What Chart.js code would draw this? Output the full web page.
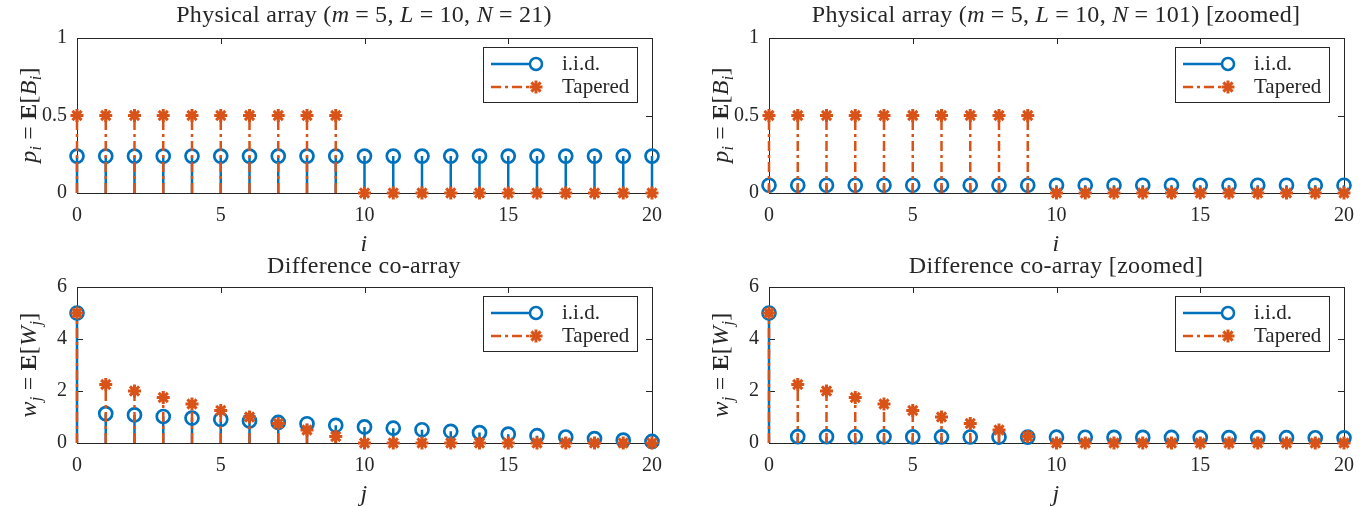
<!DOCTYPE html>
<html>
<head>
<meta charset="utf-8">
<script src="https://cdn.jsdelivr.net/npm/chart.js@4.4.0/dist/chart.umd.min.js"></script>
<style>
body { margin: 0; background: #fff; width: 1370px; height: 506px; overflow: hidden; position: relative;
       font-family: "Liberation Serif", serif; color: #262626; }
canvas { position: absolute; left: 0; top: 0; pointer-events: none; }
.t { position: absolute; font-size: 24px; white-space: nowrap; transform: translate(-50%, -50%); line-height: 1; letter-spacing: 0.3px; }
.yl { transform: translate(-50%, -50%) rotate(-90deg); font-size: 24px; }
.xl { font-size: 24px; }
.eq { margin: 0 6px; }
sub { font-size: 68%; vertical-align: -0.3em; }
</style>
</head>
<body>
<canvas id="c1" width="1370" height="506"></canvas>
<canvas id="c2" width="1370" height="506"></canvas>
<canvas id="c3" width="1370" height="506"></canvas>
<canvas id="c4" width="1370" height="506"></canvas>

<div class="t" style="left:364px;top:14px">Physical array (<i>m</i><span class="eq">=</span>5, <i>L</i><span class="eq">=</span>10, <i>N</i><span class="eq">=</span>21)</div>
<div class="t" style="left:1056px;top:14px">Physical array (<i>m</i><span class="eq">=</span>5, <i>L</i><span class="eq">=</span>10, <i>N</i><span class="eq">=</span>101) [zoomed]</div>
<div class="t" style="left:364px;top:265px">Difference co-array</div>
<div class="t" style="left:1056px;top:265px">Difference co-array [zoomed]</div>

<div class="t xl" style="left:364px;top:243px"><i>i</i></div>
<div class="t xl" style="left:1056px;top:243px"><i>i</i></div>
<div class="t xl" style="left:364px;top:493px"><i>j</i></div>
<div class="t xl" style="left:1056px;top:493px"><i>j</i></div>

<div class="t yl" style="left:30px;top:115px"><i>p<sub>i</sub></i><span class="eq">=</span><b>E</b>[<i>B<sub>i</sub></i>]</div>
<div class="t yl" style="left:722px;top:115px"><i>p<sub>i</sub></i><span class="eq">=</span><b>E</b>[<i>B<sub>i</sub></i>]</div>
<div class="t yl" style="left:30px;top:365px"><i>w<sub>j</sub></i><span class="eq">=</span><b>E</b>[<i>W<sub>j</sub></i>]</div>
<div class="t yl" style="left:722px;top:365px"><i>w<sub>j</sub></i><span class="eq">=</span><b>E</b>[<i>W<sub>j</sub></i>]</div>

<script>
// index positions (i for physical array, j for co-array)
const positions = [0, 1, 2, 3, 4, 5, 6, 7, 8, 9, 10, 11, 12, 13, 14, 15, 16, 17, 18, 19, 20];

// physical array, N = 21
const iidPhys21 = [0.238, 0.238, 0.238, 0.238, 0.238, 0.238, 0.238, 0.238, 0.238, 0.238, 0.238,
                   0.238, 0.238, 0.238, 0.238, 0.238, 0.238, 0.238, 0.238, 0.238, 0.238];
const tapPhys21 = [0.5, 0.5, 0.5, 0.5, 0.5, 0.5, 0.5, 0.5, 0.5, 0.5, 0,
                   0, 0, 0, 0, 0, 0, 0, 0, 0, 0];

// physical array, N = 101 (zoomed to first 21 elements)
const iidPhys101 = [0.05, 0.05, 0.05, 0.05, 0.05, 0.05, 0.05, 0.05, 0.05, 0.05, 0.05,
                    0.05, 0.05, 0.05, 0.05, 0.05, 0.05, 0.05, 0.05, 0.05, 0.05];
const tapPhys101 = [0.5, 0.5, 0.5, 0.5, 0.5, 0.5, 0.5, 0.5, 0.5, 0.5, 0,
                    0, 0, 0, 0, 0, 0, 0, 0, 0, 0];

// difference co-array, N = 21
const iidCo21 = [5, 1.13, 1.08, 1.02, 0.96, 0.91, 0.85, 0.79, 0.74, 0.68, 0.62,
                 0.57, 0.51, 0.45, 0.40, 0.34, 0.28, 0.23, 0.17, 0.11, 0.06];
const tapCo21 = [5, 2.25, 2.0, 1.75, 1.5, 1.25, 1.0, 0.75, 0.5, 0.25, 0,
                 0, 0, 0, 0, 0, 0, 0, 0, 0, 0];

// difference co-array, N = 101 (zoomed)
const iidCo101 = [5, 0.245, 0.243, 0.240, 0.238, 0.235, 0.233, 0.230, 0.228, 0.226, 0.223,
                  0.221, 0.218, 0.216, 0.213, 0.211, 0.208, 0.206, 0.203, 0.201, 0.198];
const tapCo101 = [5, 2.25, 2.0, 1.75, 1.5, 1.25, 1.0, 0.75, 0.5, 0.25, 0,
                  0, 0, 0, 0, 0, 0, 0, 0, 0, 0];

const physTicks = [0, 0.5, 1];
const coTicks = [0, 2, 4, 6];
const xTicks = [0, 5, 10, 15, 20];

const BLUE = '#0072BD';
const ORANGE = '#D95319';
const AXIS = '#262626';
const DASHDOT = [10, 4, 3, 4];
const FONT = '"Liberation Serif", serif';

// stem lines: 0 -> value, then a gap
const stemData = (vals) => {
    const out = [];
    positions.forEach((x, k) => {
        out.push({ x: x, y: 0 }, { x: x, y: vals[k] }, { x: x, y: null });
    });
    return out;
};
const pointData = (vals) => positions.map((x, k) => ({ x: x, y: vals[k] }));

function drawStar(ctx, x, y, r) {
    for (let a = 0; a < 4; a++) {
        const ang = a * Math.PI / 4;
        ctx.beginPath();
        ctx.moveTo(x - r * Math.cos(ang), y - r * Math.sin(ang));
        ctx.lineTo(x + r * Math.cos(ang), y + r * Math.sin(ang));
        ctx.stroke();
    }
}

// box, inward ticks and legend in MATLAB style
const matlabAxes = {
    id: 'matlabAxes',
    beforeDatasetsDraw(chart) {
        const { ctx, chartArea: a, scales } = chart;
        ctx.save();
        ctx.strokeStyle = AXIS;
        ctx.lineWidth = 1;
        ctx.strokeRect(a.left + 0.5, a.top + 0.5, a.right - a.left, a.bottom - a.top);
        ctx.beginPath();
        scales.x.ticks.forEach(t => {
            const px = Math.round(scales.x.getPixelForValue(t.value)) + 0.5;
            ctx.moveTo(px, a.bottom); ctx.lineTo(px, a.bottom - 6);
            ctx.moveTo(px, a.top); ctx.lineTo(px, a.top + 6);
        });
        scales.y.ticks.forEach(t => {
            const py = Math.round(scales.y.getPixelForValue(t.value)) + 0.5;
            ctx.moveTo(a.left, py); ctx.lineTo(a.left + 6, py);
            ctx.moveTo(a.right, py); ctx.lineTo(a.right - 6, py);
        });
        ctx.stroke();
        ctx.restore();
    },
    afterDraw(chart) {
        const { ctx, chartArea: a } = chart;
        const w = 154, h = 55;
        const lx = a.right - 15 - w, ly = a.top + 9;
        ctx.save();
        ctx.fillStyle = '#fff';
        ctx.fillRect(lx, ly, w, h);
        ctx.strokeStyle = AXIS;
        ctx.lineWidth = 1;
        ctx.strokeRect(lx + 0.5, ly + 0.5, w, h);

        // i.i.d.
        ctx.lineWidth = 2.5;
        ctx.strokeStyle = BLUE;
        ctx.beginPath();
        ctx.moveTo(lx + 8, ly + 17); ctx.lineTo(lx + 53, ly + 17);
        ctx.stroke();
        ctx.fillStyle = '#fff';
        ctx.beginPath();
        ctx.arc(lx + 53, ly + 17, 6, 0, Math.PI * 2);
        ctx.fill(); ctx.stroke();

        // Tapered
        ctx.strokeStyle = ORANGE;
        ctx.setLineDash(DASHDOT);
        ctx.beginPath();
        ctx.moveTo(lx + 8, ly + 40); ctx.lineTo(lx + 53, ly + 40);
        ctx.stroke();
        ctx.setLineDash([]);
        ctx.lineWidth = 3;
        drawStar(ctx, lx + 53, ly + 40, 6.5);

        ctx.fillStyle = AXIS;
        ctx.font = '21px ' + FONT;
        ctx.textBaseline = 'middle';
        ctx.fillText('i.i.d.', lx + 79, ly + 17);
        ctx.fillText('Tapered', lx + 79, ly + 40);
        ctx.restore();
    }
};

function makeChart(id, area, yMax, yTicks, iid, tap) {
    const yW = 40, xH = 30;
    return new Chart(document.getElementById(id), {
        type: 'line',
        data: {
            datasets: [
                {
                    data: pointData(tap), order: 0, showLine: false, clip: false,
                    pointStyle: 'star', pointRadius: 6.5, pointBorderWidth: 3,
                    pointBorderColor: ORANGE, pointBackgroundColor: ORANGE
                },
                {
                    data: stemData(tap), order: 1, clip: false, spanGaps: false,
                    borderColor: ORANGE, borderWidth: 2.5, borderDash: DASHDOT, pointRadius: 0
                },
                {
                    data: pointData(iid), order: 2, showLine: false, clip: false,
                    pointStyle: 'circle', pointRadius: 6.5, pointBorderWidth: 2.7,
                    pointBorderColor: BLUE, pointBackgroundColor: 'rgba(255,255,255,0)'
                },
                {
                    data: stemData(iid), order: 3, clip: false, spanGaps: false,
                    borderColor: BLUE, borderWidth: 2.5, pointRadius: 0
                }
            ]
        },
        options: {
            responsive: false,
            animation: false,
            events: [],
            layout: {
                padding: {
                    left: area.l - yW,
                    right: 1370 - area.r,
                    top: area.t,
                    bottom: 506 - area.b - xH
                }
            },
            plugins: { legend: { display: false }, tooltip: { enabled: false } },
            scales: {
                x: {
                    type: 'linear', min: 0, max: 20,
                    afterFit: s => { s.height = xH; },
                    afterBuildTicks: s => { s.ticks = xTicks.map(v => ({ value: v })); },
                    grid: { display: false }, border: { display: false },
                    ticks: { color: AXIS, font: { family: FONT, size: 20 }, padding: 3, maxRotation: 0,
                             callback: v => String(v) }
                },
                y: {
                    type: 'linear', min: 0, max: yMax,
                    afterFit: s => { s.width = yW; },
                    afterBuildTicks: s => { s.ticks = yTicks.map(v => ({ value: v })); },
                    grid: { display: false }, border: { display: false },
                    ticks: { color: AXIS, font: { family: FONT, size: 20 }, padding: 2,
                             callback: v => String(v) }
                }
            }
        },
        plugins: [matlabAxes]
    });
}

makeChart('c1', { l: 77, r: 652, t: 38, b: 193 }, 1, physTicks, iidPhys21, tapPhys21);
makeChart('c2', { l: 769, r: 1344, t: 38, b: 193 }, 1, physTicks, iidPhys101, tapPhys101);
makeChart('c3', { l: 77, r: 652, t: 287, b: 443 }, 6, coTicks, iidCo21, tapCo21);
makeChart('c4', { l: 769, r: 1344, t: 287, b: 443 }, 6, coTicks, iidCo101, tapCo101);
</script>
</body>
</html>
